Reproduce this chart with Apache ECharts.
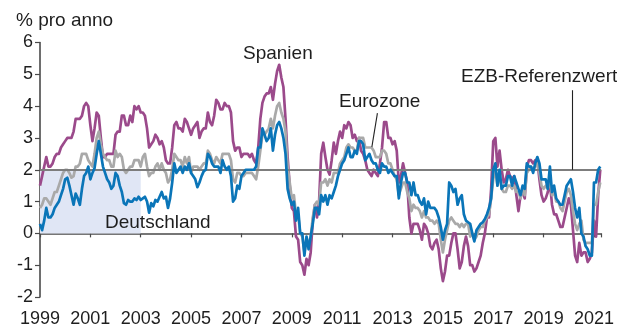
<!DOCTYPE html>
<html>
<head>
<meta charset="utf-8">
<script src="https://cdn.jsdelivr.net/npm/echarts@6/dist/echarts.min.js"></script>
<style>
  html, body { margin: 0; padding: 0; background: #ffffff; }
  #chart { width: 617px; height: 328px; }
</style>
</head>
<body>
<div id="chart"></div>
<script>
// Monthly HICP rates, % year on year, January 1999 to April 2021
const startYear = 1999;

const deutschland = [
  0.3, 0.1, 0.4, 0.8, 0.5, 0.5, 0.6, 0.8, 0.9, 1.0, 1.2, 1.4,
  1.7, 1.75, 1.5, 1.2, 0.9, 1.25, 1.1, 0.9, 1.4, 1.8, 1.9, 2.1,
  1.7, 1.9, 2.05, 2.5, 2.9, 2.5, 2.1, 1.9, 1.7, 1.6, 1.4, 1.5,
  1.9, 1.8, 1.5, 1.3, 0.95, 0.9, 1.05, 1.0, 1.0, 1.1, 1.05, 1.15,
  1.05, 1.1, 1.15, 1.0, 0.65, 0.95, 0.85, 1.05, 1.0, 1.15, 1.3, 1.1,
  1.15, 0.8, 1.1, 1.6, 2.2, 1.9, 2.0, 2.1, 1.9, 2.1, 2.0, 2.2,
  1.9, 1.8, 1.7, 1.45, 1.6, 1.8, 1.95, 2.0, 2.5, 2.4, 2.2, 2.1,
  2.1, 2.1, 1.9, 2.3, 2.1, 2.0, 2.1, 1.8, 1.0, 1.1, 1.5, 1.4,
  1.8, 1.9, 2.0, 2.0, 2.0, 2.0, 2.0, 2.1, 2.7, 2.7, 3.3, 3.1,
  2.9, 3.0, 3.3, 2.6, 3.1, 3.4, 3.5, 3.3, 3.0, 2.5, 1.4, 1.1,
  0.9, 1.0, 0.4, 0.8, 0.0, 0.0, -0.7, -0.1, -0.5, -0.1, 0.3, 0.8,
  0.8, 0.6, 1.2, 1.0, 1.2, 0.9, 1.2, 1.1, 1.3, 1.5, 1.8, 2.0,
  2.2, 2.3, 2.5, 2.7, 2.4, 2.4, 2.6, 2.5, 2.9, 2.9, 2.8, 2.3,
  2.4, 2.5, 2.3, 2.2, 2.2, 2.0, 1.9, 2.2, 2.1, 2.1, 1.9, 2.0,
  1.9, 1.8, 1.8, 1.1, 1.6, 1.9, 1.9, 1.6, 1.6, 1.2, 1.6, 1.2,
  1.2, 1.0, 0.9, 1.1, 0.6, 1.0, 0.8, 0.8, 0.8, 0.7, 0.5, 0.2,
  -0.2, 0.1, 0.3, 1.6, 1.5, 1.3, 1.4, 0.9, 1.1, 1.2, 0.6, 0.4,
  0.35, 0.3, 0.0, -0.25, 0.1, 0.2, 0.3, 0.35, 0.45, 0.6, 0.8, 1.1,
  2.0, 2.2, 1.5, 2.0, 1.4, 1.5, 1.5, 1.8, 1.8, 1.5, 1.8, 1.6,
  1.4, 1.2, 1.5, 1.4, 2.2, 2.1, 2.1, 1.9, 2.2, 2.4, 2.2, 1.7,
  1.7, 1.7, 1.4, 2.1, 1.3, 1.5, 1.1, 1.0, 0.9, 0.9, 1.2, 1.5,
  1.6, 1.7, 1.3, 0.8, 0.5, 0.8, 0.0, -0.1, -0.4, -0.5, -0.7, -0.7,
  1.6, 1.6, 2.0, 2.1
];

const spanien = [
  1.5, 1.8, 2.1, 2.4, 2.1, 2.1, 2.2, 2.4, 2.5, 2.5, 2.7, 2.8,
  2.9, 3.0, 3.0, 3.0, 3.2, 3.6, 3.6, 3.6, 3.7, 4.0, 4.1, 4.0,
  3.4, 2.9, 3.3, 3.8, 3.7, 3.0, 2.4, 2.4, 2.5, 2.5, 2.5, 2.5,
  3.1, 3.2, 3.2, 3.7, 3.7, 3.4, 3.4, 3.7, 3.5, 4.0, 3.9, 4.0,
  3.8, 3.8, 3.7, 3.3, 2.7, 2.8, 2.9, 3.1, 3.0, 2.8, 2.9, 2.7,
  2.3, 2.2, 2.2, 2.7, 3.4, 3.5, 3.3, 3.3, 3.2, 3.6, 3.5, 3.3,
  3.1, 3.3, 3.4, 3.5, 3.0, 3.2, 3.3, 3.3, 3.8, 3.5, 3.4, 3.7,
  4.2, 4.1, 3.9, 3.9, 4.1, 4.0, 4.0, 3.8, 2.9, 2.6, 2.7, 2.7,
  2.4, 2.5, 2.5, 2.5, 2.4, 2.5, 2.3, 2.2, 2.7, 3.6, 4.1, 4.3,
  4.4, 4.4, 4.6, 4.2, 4.7, 5.1, 5.3, 4.9, 4.6, 3.6, 2.4, 1.5,
  0.8, 0.7, -0.1, -0.2, -0.9, -1.0, -1.3, -0.8, -1.0, -0.6, 0.4, 0.9,
  0.5, 1.0, 2.5, 2.85, 2.4, 2.0, 1.85, 2.3, 2.85, 2.5, 2.9, 3.2,
  3.0, 3.4, 3.3, 3.5, 3.4, 3.0, 3.1, 2.9, 3.0, 2.6, 2.5, 2.3,
  2.0, 1.9, 1.8, 2.0, 1.9, 1.8, 2.2, 2.7, 3.5, 3.5, 3.0, 3.0,
  2.8, 2.9, 2.6, 1.6, 1.8, 2.2, 1.9, 1.6, 0.5, 0.0, 0.3, 0.3,
  0.3, 0.1, -0.2, 0.3, 0.2, 0.0, -0.4, -0.5, -0.3, -0.2, -0.5, -1.1,
  -1.5, -1.2, -0.7, -0.7, -0.3, 0.0, 0.0, -0.5, -1.1, -0.9, -0.4, -0.1,
  -0.4, -1.0, -1.0, -1.2, -1.1, -0.9, -0.7, -0.3, 0.0, 0.5, 0.5, 1.4,
  2.9, 3.0, 2.1, 2.6, 2.0, 1.6, 1.7, 2.0, 1.8, 1.7, 1.8, 1.2,
  0.7, 1.2, 1.3, 1.1, 2.1, 2.3, 2.3, 2.2, 2.3, 2.3, 1.7, 1.2,
  1.0, 1.1, 1.3, 1.6, 0.9, 0.6, 0.6, 0.4, 0.2, 0.2, 0.5, 0.8,
  1.1, 0.9, 0.1, -0.7, -0.9, -0.3, -0.7, -0.6, -0.6, -0.9, -0.8, -0.6,
  0.4, -0.1, 1.2, 2.0
];

const eurozone = [
  0.8, 0.9, 1.1, 1.1, 1.0, 0.9, 1.1, 1.3, 1.3, 1.5, 1.7, 1.9,
  2.0, 2.0, 1.9, 1.75, 1.8, 2.1, 2.1, 2.2, 2.5, 2.5, 2.5, 2.3,
  2.2, 2.1, 2.5, 3.0, 3.2, 2.8, 2.5, 2.4, 2.3, 2.3, 2.1, 2.1,
  2.6, 2.4, 2.5, 2.4, 2.0, 1.9, 2.0, 2.1, 2.1, 2.3, 2.3, 2.3,
  2.1, 2.4, 2.5, 2.1, 1.8, 1.9, 1.9, 2.1, 2.2, 2.0, 2.2, 2.0,
  1.9, 1.6, 1.7, 2.0, 2.5, 2.4, 2.3, 2.3, 2.1, 2.4, 2.2, 2.4,
  1.9, 2.1, 2.1, 2.1, 2.0, 2.1, 2.2, 2.2, 2.6, 2.5, 2.3, 2.2,
  2.4, 2.3, 2.2, 2.5, 2.5, 2.5, 2.5, 2.3, 1.7, 1.6, 1.9, 1.9,
  1.8, 1.8, 1.9, 1.9, 1.9, 1.9, 1.8, 1.7, 2.1, 2.6, 3.1, 3.1,
  3.2, 3.3, 3.6, 3.3, 3.7, 4.0, 4.1, 3.8, 3.6, 3.2, 2.1, 1.6,
  1.1, 1.2, 0.6, 0.6, 0.0, -0.1, -0.6, -0.2, -0.3, -0.1, 0.5, 0.9,
  1.0, 0.9, 1.6, 1.6, 1.7, 1.5, 1.7, 1.6, 1.9, 1.9, 1.9, 2.2,
  2.3, 2.4, 2.7, 2.8, 2.7, 2.7, 2.6, 2.6, 3.0, 3.0, 3.0, 2.7,
  2.7, 2.7, 2.7, 2.6, 2.4, 2.4, 2.4, 2.6, 2.6, 2.5, 2.2, 2.2,
  2.0, 1.8, 1.7, 1.2, 1.4, 1.6, 1.6, 1.3, 1.1, 0.7, 0.9, 0.8,
  0.8, 0.7, 0.5, 0.7, 0.5, 0.5, 0.4, 0.4, 0.3, 0.4, 0.3, -0.2,
  -0.6, -0.2, 0.1, 0.4, 0.5, 0.4, 0.3, 0.3, 0.2, 0.3, 0.2, 0.3,
  0.3, -0.1, 0.0, -0.2, -0.1, 0.1, 0.2, 0.2, 0.4, 0.5, 0.6, 1.1,
  1.7, 2.0, 1.5, 1.9, 1.4, 1.3, 1.3, 1.5, 1.5, 1.4, 1.5, 1.3,
  1.3, 1.1, 1.4, 1.2, 1.9, 2.0, 2.1, 2.0, 2.1, 2.2, 1.9, 1.5,
  1.4, 1.5, 1.4, 1.7, 1.2, 1.3, 1.0, 1.0, 0.8, 0.7, 1.0, 1.3,
  1.4, 1.2, 0.7, 0.3, 0.1, 0.3, 0.4, -0.2, -0.3, -0.3, -0.3, -0.3,
  0.9, 0.9, 1.3, 1.6
];

// ECB reference value and the early period shaded below it
const referenzwert = 2;
const shadedPeriod = [1999, 2003];

// Axis ticks
const yTicks = [-2, -1, 0, 1, 2, 3, 4, 5, 6];
const xLabelYears = [1999, 2001, 2003, 2005, 2007, 2009, 2011, 2013, 2015, 2017, 2019, 2021];

const FONT = "'Liberation Sans', Arial, Helvetica, sans-serif";
const TEXT = '#1e1e1e';
const AXIS = '#4a4a4a';

function toPoints(values) {
  return values.map((v, i) => [startYear + i / 12, v]);
}

const xMin = xLabelYears[0];
const xMax = startYear + (deutschland.length - 1) / 12 + 0.03;

const chart = echarts.init(document.getElementById('chart'), null, { renderer: 'canvas' });

const lineBase = {
  type: 'line',
  showSymbol: false,
  symbol: 'none',
  smooth: false,
  xAxisIndex: 0,
  yAxisIndex: 0,
  animation: false,
  emphasis: { disabled: true }
};

chart.setOption({
  animation: false,
  grid: { left: 40, right: 8.5, top: 42.5, bottom: 30.5, containLabel: false },
  xAxis: [
    {
      type: 'value',
      position: 'bottom',
      min: xMin,
      max: xMax,
      interval: 2,
      axisLine: { show: false, onZero: false },
      axisTick: { show: false },
      splitLine: { show: false },
      axisLabel: {
        show: true,
        margin: 13,
        fontFamily: FONT,
        fontSize: 18,
        color: TEXT,
        showMaxLabel: false,
        formatter: v => (xLabelYears.includes(Math.round(v)) ? String(Math.round(v)) : '')
      }
    },
    {
      type: 'value',
      position: 'bottom',
      min: xMin,
      max: xMax,
      interval: 2,
      axisLine: { show: true, onZero: true, lineStyle: { color: AXIS, width: 1.6 } },
      axisTick: { show: true, inside: false, length: 4, lineStyle: { color: AXIS, width: 1.2 } },
      axisLabel: { show: false },
      splitLine: { show: false }
    }
  ],
  yAxis: {
    type: 'value',
    min: yTicks[0],
    max: yTicks[yTicks.length - 1],
    interval: 1,
    axisLine: { show: true, onZero: false, lineStyle: { color: AXIS, width: 1.6 } },
    axisTick: { show: true, inside: false, length: 5, lineStyle: { color: AXIS, width: 1.2 } },
    splitLine: { show: false },
    axisLabel: {
      margin: 7,
      fontFamily: FONT,
      fontSize: 18,
      color: TEXT,
      formatter: v => String(v)
    }
  },
  series: [
    Object.assign({}, lineBase, {
      name: 'Spanien',
      data: toPoints(spanien),
      z: 3,
      lineStyle: { color: '#9b4a8b', width: 2.7, join: 'round' },
      markArea: {
        silent: true,
        itemStyle: { color: '#e0e6f5' },
        data: [[
          { xAxis: shadedPeriod[0], yAxis: 0 },
          { xAxis: shadedPeriod[1], yAxis: referenzwert }
        ]]
      },
      markLine: {
        silent: true,
        symbol: 'none',
        label: { show: false },
        animation: false,
        data: [
          { yAxis: referenzwert, lineStyle: { color: '#7d7d7d', width: 2, type: 'solid' } }
        ]
      }
    }),
    Object.assign({}, lineBase, {
      name: 'Eurozone',
      data: toPoints(eurozone),
      z: 4,
      lineStyle: { color: '#a9a9a9', width: 2.7, join: 'round' }
    }),
    Object.assign({}, lineBase, {
      name: 'Deutschland',
      data: toPoints(deutschland),
      z: 5,
      lineStyle: { color: '#0a75b8', width: 2.7, join: 'round' },
      markLine: {
        silent: true,
        symbol: 'none',
        label: { show: false },
        animation: false,
        lineStyle: { color: '#222222', width: 1.1, type: 'solid' },
        data: [
          [{ coord: [2020.15, referenzwert] }, { coord: [2020.15, 4.5] }],
          [{ coord: [2012.18, 2.72] }, { coord: [2012.4, 3.78] }]
        ]
      }
    })
  ],
  graphic: [
    { type: 'text', z: 100, left: 16, top: 11, style: { text: '% pro anno', font: '19px ' + FONT, fill: TEXT } },
    { type: 'text', z: 100, left: 243, top: 44, style: { text: 'Spanien', font: '19px ' + FONT, fill: TEXT } },
    { type: 'text', z: 100, left: 339, top: 92, style: { text: 'Eurozone', font: '19px ' + FONT, fill: TEXT } },
    { type: 'text', z: 100, left: 461, top: 67, style: { text: 'EZB-Referenzwert', font: '19px ' + FONT, fill: TEXT } },
    { type: 'text', z: 100, left: 105, top: 213, style: { text: 'Deutschland', font: '19px ' + FONT, fill: TEXT } }
  ]
});
</script>
</body>
</html>
